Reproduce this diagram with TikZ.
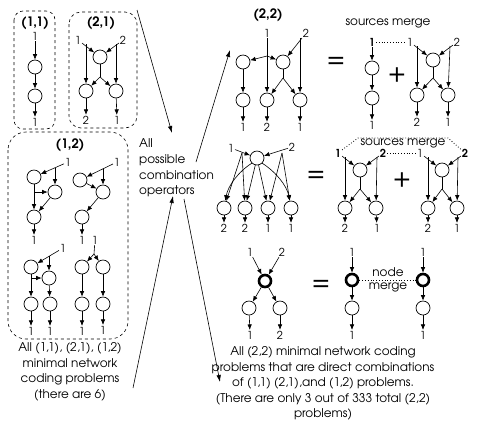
\documentclass[tikz,border=0pt]{standalone}
\usepackage{fontspec}
\setmainfont{TeX Gyre Adventor}
\usetikzlibrary{arrows.meta}
\newcommand{\lblfont}{\fontsize{11}{13}\selectfont}
\newcommand{\wrdfont}{\fontsize{12}{14}\selectfont}
\newcommand{\ttlfont}{\fontsize{13}{15}\selectfont\bfseries}
\newcommand{\capfont}{\fontsize{12}{15.6}\selectfont}
\newcommand{\bigfont}{\fontsize{26}{28}\selectfont}
\begin{document}
\begin{tikzpicture}[x=1pt,y=-1pt,
  cnode/.style={circle,draw,minimum size=14pt,inner sep=0pt,line width=0.7pt},
  tnode/.style={circle,draw,minimum size=12pt,inner sep=0pt,line width=2.6pt},
  lab/.style={inner sep=0.8pt,font=\lblfont},
  blab/.style={inner sep=0.8pt,font=\lblfont\bfseries},
  wrd/.style={inner sep=0.5pt,font=\wrdfont},
  ttl/.style={inner sep=0pt,font=\ttlfont},
  capt/.style={inner sep=0pt,font=\capfont,align=center},
  sym/.style={inner sep=0pt,font=\bigfont},
  arr/.style={-{Latex[length=5.5pt,width=4.5pt]},line width=0.6pt},
  ln/.style={line width=0.6pt},
  dbox/.style={draw,dashed,line width=0.6pt},
  bigarr/.style={-{Latex[length=7pt,width=4.5pt]},line width=0.6pt},
  mline/.style={dotted,line width=0.8pt}]
\useasboundingbox (0,0) rectangle (478,432);

% ---------------- (1,1)
\draw[dbox,rounded corners=9] (14,11) rectangle (55,129);
\node[ttl] (t11) at (35,23) {(1,1)};
\node[lab] (s11) at (35,36) {1};
\node[cnode] (a11) at (35,67) {};
\node[cnode] (b11) at (35,96) {};
\node[lab] (k11) at (35,122) {1};
\draw[arr] (s11) -- (a11);
\draw[arr] (a11) -- (b11);
\draw[arr] (b11) -- (k11);

% ---------------- (2,1)
\draw[dbox,rounded corners=12] (69,12) rectangle (137,128);
\node[ttl] (t21) at (101,23) {(2,1)};
\node[lab] (u1) at (78,40) {1};
\node[lab] (u2) at (123,40) {2};
\node[cnode] (um) at (100,57) {};
\node[cnode] (uo1) at (86,91) {};
\node[cnode] (uo2) at (116,91) {};
\node[lab] (uk1) at (86,120) {2};
\node[lab] (uk2) at (117,120) {1};
\coordinate (uv1) at (86,44);
\coordinate (uv2) at (116,44);
\coordinate (uj) at (100,77);
\draw[arr] (u1) -- (um);
\draw[arr] (u2) -- (um);
\draw[arr] (uv1) -- (uo1);
\draw[arr] (uv2) -- (uo2);
\draw[ln] (um) -- (uj);
\draw[arr] (uj) -- (uo1);
\draw[arr] (uj) -- (uo2);
\draw[arr] (uo1) -- (uk1);
\draw[arr] (uo2) -- (uk2);

% ---------------- (1,2)
\draw[dbox,rounded corners=18] (8,132) rectangle (128,339);
\node[ttl] (t12) at (70,145) {(1,2)};
% sub 1
\node[lab] (p1s) at (68,162) {1};
\node[cnode] (p1a) at (34,177) {};
\node[cnode] (p1b) at (55,192) {};
\node[cnode] (p1c) at (34,217) {};
\node[lab] (p1k) at (34,240) {1};
\coordinate (p1j) at (55,168);
\coordinate (p1h) at (34,192);
\draw[arr] (p1s) -- (p1a);
\draw[arr] (p1j) -- (p1b);
\draw[arr] (p1a) -- (p1c);
\draw[arr] (p1h) -- (p1b);
\draw[arr] (p1b) -- (p1c);
\draw[arr] (p1c) -- (p1k);
% sub 2
\node[lab] (p2s) at (117,162) {1};
\node[cnode] (p2a) at (80,180) {};
\node[cnode] (p2b) at (103,192) {};
\node[cnode] (p2c) at (82,217) {};
\node[lab] (p2k) at (82,240) {1};
\coordinate (p2j) at (103,169);
\draw[arr] (p2s) -- (p2a);
\draw[arr] (p2j) -- (p2b);
\draw[arr] (p2a) -- (p2b);
\draw[arr] (p2b) -- (p2c);
\draw[arr] (p2c) -- (p2k);
% sub 3
\node[lab] (p3s) at (63,248) {1};
\node[cnode] (p3a) at (31,267) {};
\node[cnode] (p3b) at (49,278) {};
\node[cnode] (p3c) at (31,304) {};
\node[cnode] (p3d) at (50,304) {};
\node[lab] (p3k1) at (31,331) {1};
\node[lab] (p3k2) at (50,331) {1};
\coordinate (p3j) at (49,256);
\coordinate (p3h) at (31,278);
\draw[arr] (p3s) -- (p3a);
\draw[arr] (p3j) -- (p3b);
\draw[arr] (p3a) -- (p3c);
\draw[arr] (p3h) -- (p3b);
\draw[arr] (p3b) -- (p3d);
\draw[arr] (p3c) -- (p3k1);
\draw[arr] (p3d) -- (p3k2);
% sub 4
\node[lab] (p4s) at (95,240) {1};
\coordinate (p4j) at (94,254);
\node[cnode] (p4a) at (82,267) {};
\node[cnode] (p4b) at (103,267) {};
\node[cnode] (p4c) at (82,304) {};
\node[cnode] (p4d) at (103,304) {};
\node[lab] (p4k1) at (82,331) {1};
\node[lab] (p4k2) at (103,330) {1};
\draw[ln] (p4s) -- (p4j);
\draw[arr] (p4j) -- (p4a);
\draw[arr] (p4j) -- (p4b);
\draw[arr] (p4a) -- (p4c);
\draw[arr] (p4b) -- (p4d);
\draw[arr] (p4c) -- (p4k1);
\draw[arr] (p4d) -- (p4k2);

\node[capt] (lcap) at (70,372) {All (1,1), (2,1), (1,2)\\minimal network\\coding problems\\(there are 6)};

% ---------------- middle
\node[capt,align=left,anchor=west] (mid) at (139,168) {All\\possible\\combination\\operators};
\coordinate (ba1) at (137,10);
\coordinate (be1) at (172,133);
\coordinate (ba2) at (196,162);
\coordinate (be2) at (230,50);
\coordinate (ba3) at (133,388);
\coordinate (be3) at (173,196);
\coordinate (ba4) at (184,199);
\coordinate (be4) at (220,382);
\draw[bigarr] (ba1) -- (be1);
\draw[bigarr] (ba2) -- (be2);
\draw[bigarr] (ba3) -- (be3);
\draw[bigarr] (ba4) -- (be4);

% ---------------- row 1 : (2,2)
\node[ttl] (t22) at (268,15) {(2,2)};
\node[lab] (r1s1) at (267,33) {1};
\node[lab] (r1s2) at (306,33) {2};
\node[cnode] (r1p) at (243,62) {};
\node[cnode] (r1q) at (283,62) {};
\node[cnode] (r1r) at (243,100) {};
\node[cnode] (r1s) at (267,100) {};
\node[cnode] (r1t) at (300,100) {};
\node[lab] (r1k1) at (243,127) {1};
\node[lab] (r1k2) at (267,127) {2};
\node[lab] (r1k3) at (300,127) {1};
\coordinate (r1j) at (267,56);
\coordinate (r1v) at (300,38);
\coordinate (r1qj) at (283,78);
\draw[arr] (r1s1) -- (r1s);
\draw[arr] (r1j) -- (r1p);
\draw[arr] (r1j) -- (r1q);
\draw[arr] (r1s2) -- (r1q);
\draw[arr] (r1v) -- (r1t);
\draw[arr] (r1p) -- (r1r);
\draw[ln] (r1q) -- (r1qj);
\draw[arr] (r1qj) -- (r1s);
\draw[arr] (r1qj) -- (r1t);
\draw[arr] (r1r) -- (r1k1);
\draw[arr] (r1s) -- (r1k2);
\draw[arr] (r1t) -- (r1k3);

\node[sym] (eq1) at (336,62) {=};

\node[wrd] (sm1) at (388,23) {sources merge};
\node[blab] (e1s) at (372,42) {1};
\node[cnode] (e1a) at (372,68) {};
\node[cnode] (e1b) at (372,98) {};
\node[lab] (e1k) at (372,125) {1};
\draw[arr] (e1s) -- (e1a);
\draw[arr] (e1a) -- (e1b);
\draw[arr] (e1b) -- (e1k);

\node[sym] (pl1) at (397,75) {+};

\node[lab] (f1) at (410,42) {1};
\node[lab] (f2) at (457,42) {2};
\node[cnode] (fm) at (433,60) {};
\node[cnode] (fo1) at (417,95) {};
\node[cnode] (fo2) at (448,95) {};
\node[lab] (fk1) at (417,122) {2};
\node[lab] (fk2) at (448,122) {1};
\coordinate (fv1) at (417,46);
\coordinate (fv2) at (450,46);
\coordinate (fj) at (433,78);
\draw[arr] (f1) -- (fm);
\draw[arr] (f2) -- (fm);
\draw[arr] (fv1) -- (fo1);
\draw[arr] (fv2) -- (fo2);
\draw[ln] (fm) -- (fj);
\draw[arr] (fj) -- (fo1);
\draw[arr] (fj) -- (fo2);
\draw[arr] (fo1) -- (fk1);
\draw[arr] (fo2) -- (fk2);
\draw[mline] (e1s) -- (f1);

% ---------------- row 2
\node[lab] (g1) at (231,148) {1};
\node[lab] (g2) at (292,147) {2};
\node[cnode] (gz) at (257,158) {};
\node[cnode] (gc1) at (224,208) {};
\node[cnode] (gc2) at (245,208) {};
\node[cnode] (gc3) at (268,208) {};
\node[cnode] (gc4) at (291,208) {};
\node[lab] (gk1) at (224,228) {2};
\node[lab] (gk2) at (245,228) {2};
\node[lab] (gk3) at (268,228) {1};
\node[lab] (gk4) at (291,228) {1};
\coordinate (gj1) at (242,153);
\coordinate (gj2) at (282,153);
\draw[arr] (g1) -- (gz);
\draw[arr] (g2) -- (gz);
\draw[arr] (gj1) -- (gc1);
\draw[arr] (gj1) -- (gc2);
\draw[arr] (gj2) -- (gc3);
\draw[arr] (gj2) -- (gc4);
\draw[arr] (gz.south west) .. controls (238,172) and (228,186) .. (gc1);
\draw[arr] (gz) -- (gc2);
\draw[arr] (gz) -- (gc3);
\draw[arr] (gz.south east) .. controls (276,172) and (287,186) .. (gc4);
\draw[arr] (gc1) -- (gk1);
\draw[arr] (gc2) -- (gk2);
\draw[arr] (gc3) -- (gk3);
\draw[arr] (gc4) -- (gk4);

\node[sym] (eq2) at (316,176) {=};

\node[wrd] (sm2) at (403,143) {sources merge};
% left (2,1)
\node[blab] (h1) at (338,153) {1};
\node[blab] (h2) at (383,153) {2};
\node[cnode] (hm) at (360,170) {};
\node[cnode] (ho1) at (345,208) {};
\node[cnode] (ho2) at (376,208) {};
\node[lab] (hk1) at (345,228) {2};
\node[lab] (hk2) at (377,228) {1};
\coordinate (hv1) at (345,157);
\coordinate (hv2) at (377,157);
\coordinate (hj) at (360,189);
\draw[arr] (h1) -- (hm);
\draw[arr] (h2) -- (hm);
\draw[arr] (hv1) -- (ho1);
\draw[arr] (hv2) -- (ho2);
\draw[ln] (hm) -- (hj);
\draw[arr] (hj) -- (ho1);
\draw[arr] (hj) -- (ho2);
\draw[arr] (ho1) -- (hk1);
\draw[arr] (ho2) -- (hk2);

\node[sym] (pl2) at (402,180) {+};

% right (2,1)
\node[lab] (i1) at (420,153) {1};
\node[blab] (i2) at (465,153) {2};
\node[cnode] (im) at (442,170) {};
\node[cnode] (io1) at (428,208) {};
\node[cnode] (io2) at (457,208) {};
\node[lab] (ik1) at (428,228) {2};
\node[lab] (ik2) at (457,228) {1};
\coordinate (iv1) at (428,157);
\coordinate (iv2) at (458,157);
\coordinate (ij) at (442,189);
\draw[arr] (i1) -- (im);
\draw[arr] (i2) -- (im);
\draw[arr] (iv1) -- (io1);
\draw[arr] (iv2) -- (io2);
\draw[ln] (im) -- (ij);
\draw[arr] (ij) -- (io1);
\draw[arr] (ij) -- (io2);
\draw[arr] (io1) -- (ik1);
\draw[arr] (io2) -- (ik2);

\coordinate (dm1) at (358,138);
\coordinate (dm2) at (448,138);
\draw[mline] (h1) -- (dm1) -- (dm2) -- (i2);
\draw[mline] (h2) -- (i1);

% ---------------- row 3
\node[lab] (x1) at (250,252) {1};
\node[lab] (x2) at (282,252) {2};
\node[tnode] (xc) at (265,281) {};
\node[cnode] (xo1) at (249,308) {};
\node[cnode] (xo2) at (280,308) {};
\node[lab] (xk1) at (250,335) {1};
\node[lab] (xk2) at (280,335) {2};
\draw[arr] (x1) -- (xc);
\draw[arr] (x2) -- (xc);
\draw[arr] (xc) -- (xo1);
\draw[arr] (xc) -- (xo2);
\draw[arr] (xo1) -- (xk1);
\draw[arr] (xo2) -- (xk2);

\node[sym] (eq3) at (321,285) {=};

\node[lab] (y1) at (352,252) {1};
\node[tnode] (yc) at (352,280) {};
\node[cnode] (yo) at (352,308) {};
\node[lab] (yk) at (352,335) {1};
\draw[arr] (y1) -- (yc);
\draw[arr] (yc) -- (yo);
\draw[arr] (yo) -- (yk);

\node[lab] (z1) at (423,252) {1};
\node[tnode] (zc) at (423,280) {};
\node[cnode] (zo) at (423,308) {};
\node[lab] (zk) at (423,335) {1};
\draw[arr] (z1) -- (zc);
\draw[arr] (zc) -- (zo);
\draw[arr] (zo) -- (zk);

\draw[mline] (yc) -- (zc);
\node[wrd] (nm1) at (388,272) {node};
\node[wrd] (nm2) at (388,287) {merge};

% ---------------- bottom caption
\node[capt] (rcap) at (323,383.5) {All (2,2) minimal network coding\\problems that are direct combinations\\of (1,1) (2,1),and (1,2) problems.\\(There are only 3 out of 333 total (2,2)\\problems)};

\end{tikzpicture}
\end{document}
